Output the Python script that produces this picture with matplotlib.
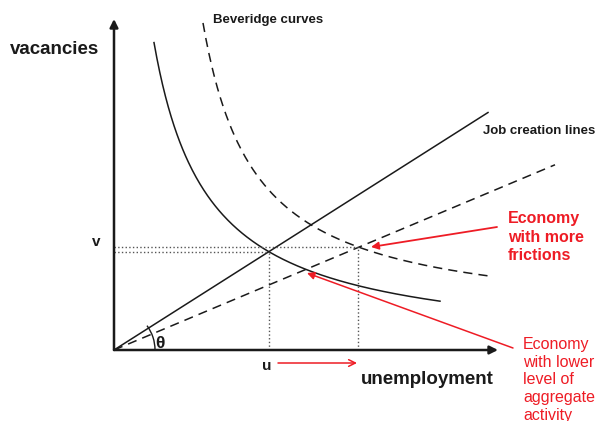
import numpy as np
import matplotlib
matplotlib.use("Agg")
import matplotlib.pyplot as plt
from matplotlib.patches import Arc

plt.rcParams['font.family'] = ['Liberation Sans', 'DejaVu Sans']

# schematic in pixel-like units, origin at the axes corner
# job creation lines: v = slope * u
slopes = [0.635, 0.42]            # solid (baseline), dashed (more frictions)
line_ends = [374, 441]
# beveridge curves: v = k / (u - u0) + c
bev_k = [16600, 15550]
bev_u0 = [-14, 37]
bev_c = [0, 28]
bev_range = [(40, 326), (89, 376)]
# equilibria (u, v)
eq_u = [155, 244]
eq_v = [98, 103]

RED = '#ee1c25'
INK = '#1a1a1a'

fig = plt.figure(figsize=(6, 4.21), dpi=100)
ax = fig.add_axes([0, 0, 1, 1])
ax.set_xlim(-114, 486)
ax.set_ylim(-71, 350)
ax.axis('off')

# axes with arrows
ax.annotate('', xy=(384, 0), xytext=(0, 0),
            arrowprops=dict(arrowstyle='-|>', lw=1.8, color=INK, mutation_scale=12, shrinkA=0, shrinkB=0))
ax.annotate('', xy=(0, 331), xytext=(0, 0),
            arrowprops=dict(arrowstyle='-|>', lw=1.8, color=INK, mutation_scale=12, shrinkA=0, shrinkB=0))

styles = ['-', (0, (6, 4))]
for i in range(2):
    u = np.linspace(0, line_ends[i], 50)
    ax.plot(u, slopes[i] * u, color=INK, lw=1.1, linestyle=styles[i])
    u = np.linspace(bev_range[i][0], bev_range[i][1], 300)
    ax.plot(u, bev_k[i] / (u - bev_u0[i]) + bev_c[i], color=INK, lw=1.1, linestyle=styles[i])

# dotted guides
ax.plot([0, eq_u[1]], [eq_v[1], eq_v[1]], color='#555', lw=1, linestyle=':')
ax.plot([0, eq_u[0]], [eq_v[0], eq_v[0]], color='#555', lw=1, linestyle=':')
ax.plot([eq_u[0], eq_u[0]], [0, eq_v[0]], color='#555', lw=1, linestyle=':')
ax.plot([eq_u[1], eq_u[1]], [0, eq_v[1]], color='#555', lw=1, linestyle=':')

# theta arc
ang = np.degrees(np.arctan(slopes[0]))
ax.add_patch(Arc((0, 0), 82, 82, theta1=0, theta2=ang + 4, color=INK, lw=1))
ax.text(46, 7, 'θ', fontsize=12.5, fontweight='bold', ha='center', va='center', color=INK)

# labels
ax.text(-59, 300, 'vacancies', fontsize=13.5, fontweight='bold', ha='center', va='center', color=INK)
ax.text(247, -29, 'unemployment', fontsize=13.5, fontweight='bold', ha='left', va='center', color=INK)
ax.text(99, 330, 'Beveridge curves', fontsize=9.5, fontweight='bold', ha='left', va='center', color=INK)
ax.text(369, 219, 'Job creation lines', fontsize=9.5, fontweight='bold', ha='left', va='center', color=INK)
ax.text(-18, 108, 'v', fontsize=11, fontweight='bold', ha='center', va='center', color=INK)
ax.text(153, -16, 'u', fontsize=11, fontweight='bold', ha='center', va='center', color=INK)

ax.text(394, 113, 'Economy\nwith more\nfrictions', fontsize=11.5, fontweight='bold',
        ha='left', va='center', color=RED, linespacing=1.25)
ax.text(409, -30, 'Economy\nwith lower\nlevel of\naggregate\nactivity', fontsize=11.5,
        ha='left', va='center', color=RED, linespacing=1.24)

# red arrows
ax.annotate('', xy=(257, 103), xytext=(383, 123),
            arrowprops=dict(arrowstyle='-|>', lw=1.3, color=RED, mutation_scale=11, shrinkA=0, shrinkB=0))
ax.annotate('', xy=(193, 77), xytext=(399, 2),
            arrowprops=dict(arrowstyle='-|>', lw=1.1, color=RED, mutation_scale=11, shrinkA=0, shrinkB=0))
ax.annotate('', xy=(243, -13), xytext=(164, -13),
            arrowprops=dict(arrowstyle='->', lw=1.1, color=RED, mutation_scale=12, shrinkA=0, shrinkB=0))

fig.savefig('out.png', dpi=100, facecolor='white')
